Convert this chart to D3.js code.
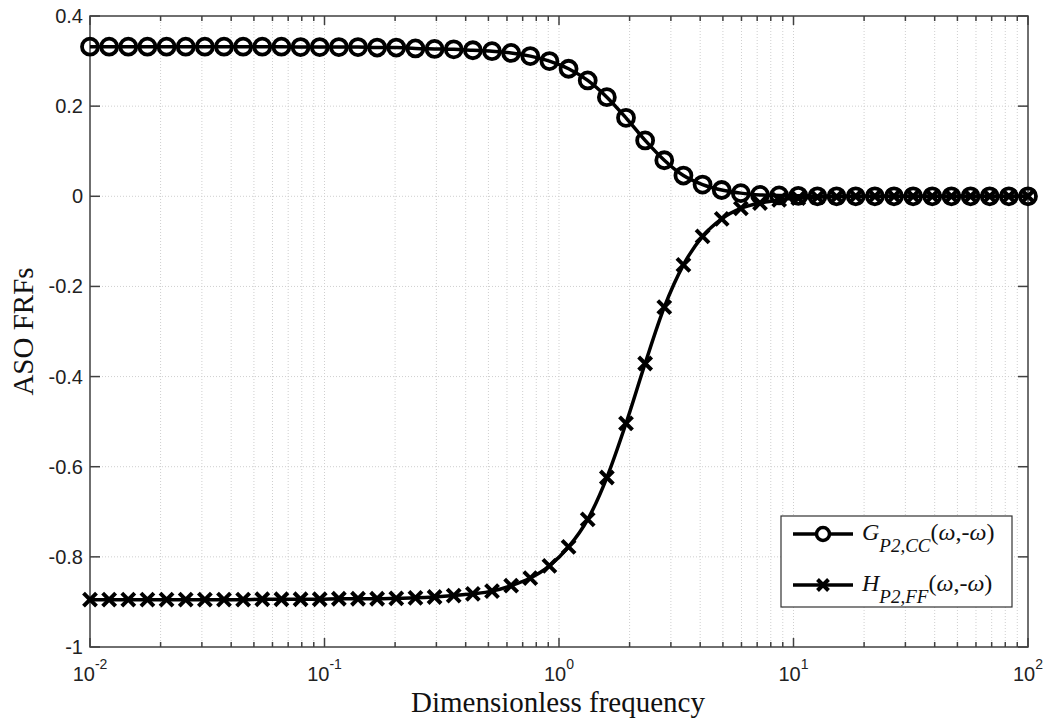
<!DOCTYPE html>
<html><head><meta charset="utf-8">
<script src="https://cdn.jsdelivr.net/npm/d3@7"></script>
<style>body{margin:0;background:#fff}</style>
</head><body>
<svg id="chart" width="1048" height="722"></svg>
<script>
// ---- data ----
const nPoints = 50; // markers are log-spaced from 1e-2 to 1e2
const xDecadeStart = -2, xDecadeEnd = 2;
const gValues = [0.332,0.332,0.332,0.332,0.332,0.332,0.332,0.332,0.332,0.332,
  0.332,0.331,0.331,0.331,0.331,0.330,0.330,0.328,0.327,0.326,
  0.324,0.322,0.318,0.311,0.300,0.283,0.257,0.220,0.174,0.124,
  0.080,0.046,0.026,0.014,0.007,0.003,0.002,0.001,0,0,
  0,0,0,0,0,0,0,0,0,0];
const hValues = [-0.895,-0.895,-0.895,-0.895,-0.895,-0.895,-0.895,-0.895,-0.895,-0.894,
  -0.894,-0.894,-0.894,-0.893,-0.893,-0.893,-0.892,-0.891,-0.889,-0.886,
  -0.882,-0.876,-0.864,-0.847,-0.820,-0.778,-0.717,-0.624,-0.504,-0.371,
  -0.246,-0.152,-0.089,-0.050,-0.027,-0.015,-0.008,-0.004,-0.002,-0.001,
  0,0,0,0,0,0,0,0,0,0];
const yTicks = [0.4,0.2,0,-0.2,-0.4,-0.6,-0.8,-1];
const yTickLabels = ["0.4","0.2","0","-0.2","-0.4","-0.6","-0.8","-1"];
const xMajorTicks = [1e-2,1e-1,1e0,1e1,1e2];
const xTickExponents = ["-2","-1","0","1","2"];
const xLabel = "Dimensionless frequency";
const yLabel = "ASO FRFs";

const freqs = d3.range(nPoints).map(i => Math.pow(10, xDecadeStart + (xDecadeEnd - xDecadeStart) * i / (nPoints - 1)));

// ---- layout ----
const L = 90, R = 1028, T = 16, B = 647;
const svg = d3.select("#chart");
const x = d3.scaleLog().domain([1e-2, 1e2]).range([L, R]);
const y = d3.scaleLinear().domain([-1, 0.4]).range([B, T]);

const minorTicks = [];
for (let e = -2; e < 2; e++) for (let k = 2; k <= 9; k++) minorTicks.push(k * Math.pow(10, e));

// grid
const grid = svg.append("g").attr("stroke", "#cfcfcf").attr("stroke-width", 1).attr("stroke-dasharray", "1,2");
minorTicks.concat(xMajorTicks.slice(1, -1)).forEach(v => {
  grid.append("line").attr("x1", x(v)).attr("x2", x(v)).attr("y1", T).attr("y2", B);
});
yTicks.slice(1, -1).forEach(v => {
  grid.append("line").attr("x1", L).attr("x2", R).attr("y1", y(v)).attr("y2", y(v));
});

// axis box
svg.append("rect").attr("x", L).attr("y", T).attr("width", R - L).attr("height", B - T)
  .attr("fill", "none").attr("stroke", "#404040").attr("stroke-width", 1.5);

// ticks (inside, mirrored)
const tk = svg.append("g").attr("stroke", "#404040").attr("stroke-width", 1.5);
xMajorTicks.forEach(v => {
  tk.append("line").attr("x1", x(v)).attr("x2", x(v)).attr("y1", B).attr("y2", B - 9);
  tk.append("line").attr("x1", x(v)).attr("x2", x(v)).attr("y1", T).attr("y2", T + 9);
});
minorTicks.forEach(v => {
  tk.append("line").attr("x1", x(v)).attr("x2", x(v)).attr("y1", B).attr("y2", B - 5);
  tk.append("line").attr("x1", x(v)).attr("x2", x(v)).attr("y1", T).attr("y2", T + 5);
});
yTicks.forEach(v => {
  tk.append("line").attr("x1", L).attr("x2", L + 10).attr("y1", y(v)).attr("y2", y(v));
  tk.append("line").attr("x1", R).attr("x2", R - 10).attr("y1", y(v)).attr("y2", y(v));
});

// tick labels
const tickFont = "Liberation Sans, Arial, sans-serif";
yTicks.forEach((v, i) => {
  svg.append("text").attr("x", L - 7).attr("y", y(v) + 7).attr("text-anchor", "end")
    .attr("font-family", tickFont).attr("font-size", 20).attr("fill", "#222").text(yTickLabels[i]);
});
xMajorTicks.forEach((v, i) => {
  const t = svg.append("text").attr("x", x(v)).attr("y", 681).attr("text-anchor", "middle")
    .attr("font-family", tickFont).attr("font-size", 20).attr("fill", "#222");
  t.append("tspan").text("10");
  t.append("tspan").attr("dy", -12).attr("font-size", 14).text(xTickExponents[i]);
});

// axis titles
const titleFont = "Liberation Serif, Times New Roman, serif";
svg.append("text").attr("x", (L + R) / 2 - 1).attr("y", 712).attr("text-anchor", "middle")
  .attr("font-family", titleFont).attr("font-size", 29).attr("fill", "#111").text(xLabel);
svg.append("text").attr("transform", `translate(33,${(T + B) / 2}) rotate(-90)`).attr("text-anchor", "middle")
  .attr("font-family", titleFont).attr("font-size", 29).attr("fill", "#111").text(yLabel);

// series
const line = d3.line().x(d => x(d[0])).y(d => y(d[1])).curve(d3.curveMonotoneX);
const gData = freqs.map((f, i) => [f, gValues[i]]);
const hData = freqs.map((f, i) => [f, hValues[i]]);

function crossPath(cx, cy, s) {
  return `M${cx - s},${cy - s}L${cx + s},${cy + s}M${cx - s},${cy + s}L${cx + s},${cy - s}`;
}

svg.append("path").datum(gData).attr("d", line).attr("fill", "none").attr("stroke", "#000").attr("stroke-width", 3.5);
svg.append("g").selectAll("circle").data(gData).join("circle")
  .attr("cx", d => x(d[0])).attr("cy", d => y(d[1])).attr("r", 8)
  .attr("fill", "none").attr("stroke", "#000").attr("stroke-width", 3.8);

svg.append("path").datum(hData).attr("d", line).attr("fill", "none").attr("stroke", "#000").attr("stroke-width", 3.5);
svg.append("g").selectAll("path").data(hData).join("path")
  .attr("d", d => crossPath(x(d[0]), y(d[1]), 6.5))
  .attr("fill", "none").attr("stroke", "#000").attr("stroke-width", 4);

// legend
const lg = svg.append("g");
lg.append("rect").attr("x", 781).attr("y", 516).attr("width", 231).attr("height", 91)
  .attr("fill", "#fff").attr("stroke", "#333").attr("stroke-width", 1.2);
const rows = [
  {y: 534, main: "G", sub: "P2,CC", marker: "circle"},
  {y: 585, main: "H", sub: "P2,FF", marker: "cross"}
];
rows.forEach(r => {
  lg.append("line").attr("x1", 793).attr("x2", 853).attr("y1", r.y).attr("y2", r.y)
    .attr("stroke", "#000").attr("stroke-width", 3.5);
  if (r.marker === "circle") {
    lg.append("circle").attr("cx", 823).attr("cy", r.y).attr("r", 6.5)
      .attr("fill", "#fff").attr("stroke", "#000").attr("stroke-width", 3.5);
  } else {
    lg.append("path").attr("d", crossPath(823, r.y, 5.5)).attr("stroke", "#000").attr("stroke-width", 4);
  }
  const t = lg.append("text").attr("x", 862).attr("y", r.y + 6)
    .attr("font-family", titleFont).attr("font-size", 24).attr("fill", "#111");
  t.append("tspan").attr("font-style", "italic").text(r.main);
  t.append("tspan").attr("font-style", "italic").attr("font-size", 19).attr("dy", 12).text(r.sub);
  t.append("tspan").attr("dy", -12).text("(");
  t.append("tspan").attr("font-style", "italic").text("ω");
  t.append("tspan").text(",-");
  t.append("tspan").attr("font-style", "italic").text("ω");
  t.append("tspan").text(")");
});
</script>
</body></html>
